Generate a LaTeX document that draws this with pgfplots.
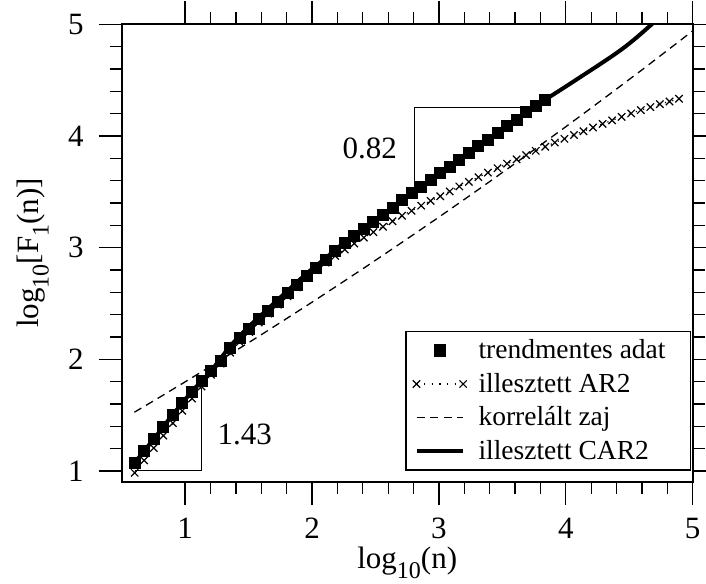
\documentclass[border=0pt]{standalone}
\usepackage{fontspec}
\setmainfont{Liberation Serif}
\usepackage{pgfplots}
\usepackage{pgfplotstable}
\pgfplotsset{compat=1.18}
\usetikzlibrary{calc}

\newcommand{\sub}[1]{\raisebox{-0.33em}{\fontsize{12}{12}\selectfont #1}}

\pgfplotsset{
  leg3/.style={legend image code/.code={\draw[mark repeat=2,mark phase=2,##1] plot coordinates {(0pt,0pt) (11.65pt,0pt) (23.3pt,0pt)};}},
  leg2/.style={legend image code/.code={\draw[##1] plot coordinates {(0pt,0pt) (23.3pt,0pt)};}},
}

% detrended data (squares)
\pgfplotstableread{
x y
0.602 1.075
0.677 1.182
0.753 1.288
0.828 1.398
0.903 1.506
0.978 1.609
1.054 1.713
1.129 1.810
1.204 1.893
1.279 1.990
1.355 2.104
1.430 2.192
1.505 2.277
1.580 2.360
1.656 2.434
1.731 2.515
1.806 2.592
1.881 2.670
1.957 2.752
2.032 2.818
2.107 2.895
2.182 2.969
2.258 3.045
2.333 3.105
2.408 3.166
2.483 3.233
2.559 3.295
2.634 3.360
2.709 3.428
2.784 3.490
2.860 3.546
2.935 3.610
3.010 3.670
3.085 3.726
3.161 3.784
3.236 3.850
3.311 3.907
3.386 3.965
3.462 4.030
3.537 4.087
3.612 4.145
3.687 4.213
3.763 4.272
3.838 4.324
}\adat

% fitted AR2 (crosses)
\pgfplotstableread{
x y
0.602 0.985
0.677 1.096
0.753 1.207
0.828 1.318
0.903 1.429
0.978 1.540
1.054 1.650
1.129 1.758
1.204 1.862
1.279 1.962
1.355 2.060
1.430 2.155
1.505 2.245
1.580 2.330
1.656 2.410
1.731 2.490
1.806 2.565
1.881 2.645
1.957 2.735
2.032 2.800
2.107 2.866
2.182 2.926
2.258 2.984
2.333 3.038
2.408 3.090
2.483 3.139
2.559 3.188
2.634 3.237
2.709 3.286
2.784 3.330
2.860 3.376
2.935 3.419
3.010 3.461
3.085 3.504
3.161 3.548
3.236 3.590
3.311 3.631
3.386 3.672
3.462 3.712
3.537 3.752
3.612 3.791
3.687 3.829
3.763 3.867
3.838 3.904
3.913 3.941
3.989 3.975
4.064 4.009
4.139 4.043
4.214 4.076
4.290 4.108
4.365 4.140
4.440 4.171
4.515 4.202
4.591 4.232
4.666 4.259
4.741 4.285
4.817 4.309
4.892 4.333
}\arket

% correlated noise (dashed)
\pgfplotstableread{
x y
0.6 1.527
0.8 1.662
1.0 1.799
1.2 1.938
1.4 2.079
1.6 2.221
1.8 2.366
2.0 2.512
2.2 2.661
2.4 2.811
2.6 2.964
2.8 3.118
3.0 3.274
3.2 3.432
3.4 3.592
3.6 3.754
3.8 3.918
4.0 4.083
4.2 4.251
4.4 4.421
4.6 4.592
4.8 4.766
5.0 4.941
}\zaj

% fitted CAR2 (thick line)
\pgfplotstableread{
x y
0.602 1.075
0.753 1.288
0.903 1.506
1.054 1.713
1.204 1.898
1.355 2.118
1.505 2.297
1.656 2.456
1.806 2.613
1.957 2.768
2.107 2.907
2.258 3.050
2.408 3.168
2.559 3.297
2.709 3.428
2.860 3.548
3.010 3.670
3.161 3.786
3.311 3.907
3.462 4.030
3.612 4.147
3.763 4.272
3.875 4.352
4.000 4.443
4.135 4.543
4.270 4.643
4.400 4.743
4.480 4.810
4.558 4.882
4.620 4.943
4.677 5.000
4.740 5.065
}\carket

\begin{document}
\begin{tikzpicture}
\begin{axis}[
  width=285.5pt, height=228.7pt, scale only axis,
  xmin=0.5, xmax=5, ymin=0.905, ymax=5,
  xtick={1,2,3,4,5}, ytick={1,2,3,4,5},
  minor tick num=4,
  tick align=outside,
  major tick length=11.5pt, minor tick length=6pt,
  every tick/.style={black, line width=0.65pt},
  axis line style={line width=1pt},
  /pgf/number format/assume math mode=true,
  tick label style={font=\fontsize{15.5}{18}\selectfont},
  xticklabel style={yshift=-3pt},
  yticklabel style={xshift=-4pt},
  xlabel={log\sub{10}(n)},
  ylabel={log\sub{10}[F\sub{1}(n)]},
  label style={font=\fontsize{15.5}{18}\selectfont},
  xlabel style={at={(axis description cs:0.5,-0.19)}, anchor=base},
  ylabel style={at={(axis description cs:-0.146,0.5)}, anchor=base},
  legend style={at={(axis description cs:0.997,0.024)}, anchor=south east,
    draw=black, line width=0.7pt, font=\fontsize{13.75}{16}\selectfont,
    cells={anchor=west}, row sep=1.7pt, inner xsep=3.35pt, inner ysep=2pt,
    /tikz/every odd column/.append style={column sep=3.85pt}},
  leg3,
]
\coordinate (bl) at (rel axis cs:0,0);
\coordinate (tr) at (rel axis cs:1,1);

\addplot[only marks, mark=square*, mark size=2.75pt, black] table[x=x,y=y]{\adat};
\addlegendentry{trendmentes adat\rule{7pt}{0pt}}

\addplot[black, line width=0.6pt, dash pattern=on 0.6pt off 3.2pt, mark=x, mark size=2.6pt,
  mark options={solid, line width=0.6pt}, leg2]
  table[x=x,y=y]{\arket};
\addlegendentry{illesztett AR2}

\addplot[black, line width=0.65pt, dash pattern=on 4pt off 2.75pt] table[x=x,y=y]{\zaj};
\addlegendentry{korrelált zaj}

\addplot[black, line width=2pt, line join=round, smooth, tension=0.5] table[x=x,y=y]{\carket};
\addlegendentry{illesztett CAR2}

\addplot[black, line width=0.5pt, forget plot] coordinates {(0.602,1.001) (1.128,1.001) (1.128,1.744)};
\addplot[black, line width=0.5pt, forget plot] coordinates {(2.810,3.517) (2.810,4.253) (3.741,4.253)};
\node[font=\fontsize{15.5}{18}\selectfont] at (axis cs:1.47,1.324) {1.43};
\node[font=\fontsize{15.5}{18}\selectfont] at (axis cs:2.455,3.893) {0.82};
\end{axis}
\pgfresetboundingbox
\path[use as bounding box] ($(bl)+(-60.85pt,-50.65pt)$) rectangle ($(tr)+(6.65pt,12.15pt)$);
\end{tikzpicture}
\end{document}
